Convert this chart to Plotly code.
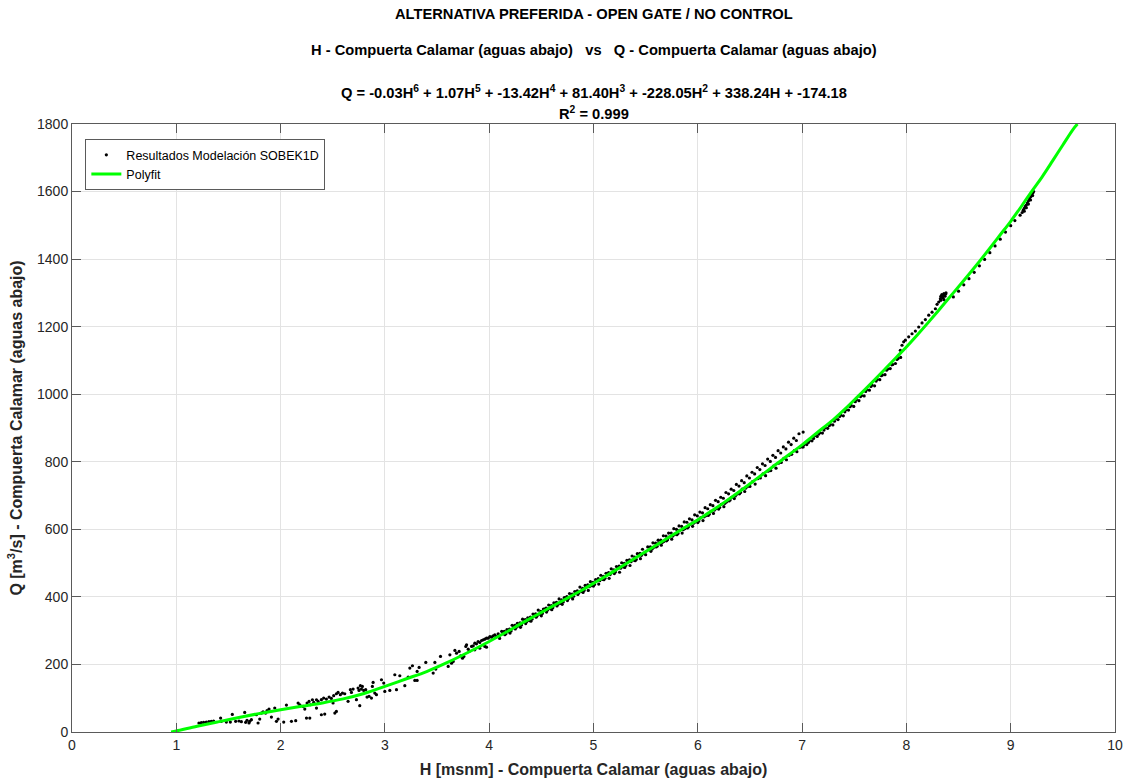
import plotly.graph_objects as go

# ---------------- data ----------------
# Polyfit curve
fit_H = [0.95, 1.0, 1.2, 1.4, 1.6, 1.8, 2.0, 2.2, 2.4, 2.6, 2.8, 3.0, 3.2, 3.4, 3.6, 3.8,
         4.0, 4.1, 4.2, 4.3, 4.4, 4.5, 4.6, 4.7, 4.8, 4.9, 5.0, 5.1, 5.2, 5.3, 5.4, 5.5,
         5.6, 5.7, 5.8, 5.9, 6.0, 6.1, 6.2, 6.3, 6.4, 6.5, 6.6, 6.7, 6.8, 6.9, 7.0, 7.1,
         7.2, 7.3, 7.4, 7.5, 7.6, 7.7, 7.8, 7.9, 8.0, 8.1, 8.2, 8.3, 8.4, 8.5, 8.6, 8.7,
         8.8, 8.9, 9.0, 9.1, 9.2, 9.3, 9.4, 9.5, 9.6, 9.64]
fit_Q = [0, 3, 17, 30, 43, 55, 66, 76, 86, 98, 114, 135, 157, 179, 206, 236,
         268, 285, 302, 320, 337, 354, 371, 388, 405, 422, 440, 458, 477, 496, 515, 534,
         553, 572, 591, 610, 628, 648, 668, 690, 712, 735, 758, 781, 804, 827, 850, 875,
         900, 925, 953, 983, 1013, 1044, 1076, 1108, 1140, 1174, 1209, 1245, 1282, 1318, 1355, 1393,
         1432, 1472, 1512, 1555, 1600, 1643, 1690, 1738, 1785, 1800]

# SOBEK1D results, low range (H 1.2 - 2.6)
sim_H_low = [1.217, 1.24, 1.262, 1.288, 1.313, 1.336, 1.358, 1.425, 1.432, 1.48, 1.518, 1.537,
             1.569, 1.601, 1.624, 1.656, 1.665, 1.678, 1.697, 1.704, 1.72, 1.768, 1.784, 1.80,
             1.816, 1.832, 1.857, 1.87, 1.889, 1.912, 1.944, 1.96, 1.976, 2.03, 2.056, 2.104,
             2.145, 2.168, 2.184, 2.216, 2.232, 2.254, 2.273, 2.286, 2.305, 2.318, 2.344, 2.36,
             2.344, 2.391, 2.423, 2.248, 2.28, 2.52, 2.535]
sim_Q_low = [26.6, 27.5, 28.5, 29.5, 30.5, 31.5, 32.5, 41.3, 31.5, 29.5, 29.5, 52,
             31.5, 32.5, 30.5, 58, 28.5, 34.5, 26.6, 31.5, 36.4, 51, 26.6, 38.4,
             56, 60, 56, 63, 68, 44.3, 71, 31.5, 38.4, 29.5, 79.7, 31.5,
             33.4, 85.6, 80.7, 75.8, 68, 85.6, 90.6, 80.7, 95.5, 87.6, 95.5, 90.6,
             70.9, 51, 53, 41.3, 41.3, 56, 61]

# SOBEK1D results, H 2.4 - 4.1
sim_H_mid = [2.391, 2.413, 2.439, 2.465, 2.487, 2.509, 2.535, 2.551, 2.573, 2.593, 2.615, 2.503,
             2.647, 2.669, 2.679, 2.695, 2.727, 2.743, 2.752, 2.765, 2.775, 2.784, 2.797, 2.816,
             2.829, 2.848, 2.871, 2.887, 2.88, 2.903, 2.919, 2.759, 2.967, 2.989, 2.999, 3.047,
             3.095, 3.111, 3.143, 3.191, 3.223, 3.239, 3.264, 3.287, 3.309, 3.309, 3.328, 3.392,
             3.463, 3.479, 3.488, 3.533, 3.607, 3.623, 3.639, 3.655, 3.671, 3.687, 3.712, 3.725,
             3.744, 3.757, 3.776, 3.783, 3.799, 3.808, 3.831, 3.847, 3.862, 3.878, 3.894, 3.91,
             3.927, 3.943, 3.958, 3.974, 3.99, 4.007, 4.022, 4.038, 4.054, 4.07, 4.086,
             3.862, 3.91, 3.958, 3.974]
sim_Q_mid = [95.6, 100.5, 97.6, 103.5, 99.5, 107.4, 113.3, 117.3, 110.4, 115.3, 113.3, 85.8,
             90.7, 125.2, 117.3, 127.1, 95.6, 130, 123.2, 137, 127.1, 135, 123.2, 125.2,
             103.5, 105.5, 100.5, 146.8, 135, 115.3, 110.4, 77.9, 154.7, 144.9, 120.2, 123.2,
             169.5, 125.2, 166.5, 137, 162.6, 189.2, 196.1, 152.7, 152.7, 179.3, 191.1, 205.9,
             174.4, 205.9, 186.2, 223.6, 194.1, 228.6, 203.9, 208.9, 241.4, 233.5, 238.4, 225.6,
             218.7, 223.6, 253.2, 258.1, 245.3, 238.4, 253.2, 255.2, 263, 261.1, 268, 265,
             270.9, 272.9, 274.9, 277.8, 277.8, 282.8, 280.8, 284.7, 287.7, 282.8, 290.6,
             243.4, 248.3, 253.2, 251.2]

# SOBEK1D results, dense band H 4.1 - 5.5
sim_H_band1 = [4.12, 4.17, 4.22, 4.27, 4.32, 4.37, 4.42, 4.47, 4.52, 4.57, 4.62, 4.67, 4.72, 4.77,
               4.82, 4.87, 4.92, 4.97, 5.02, 5.07, 5.12, 5.17, 5.22, 5.27, 5.32, 5.37, 5.42, 5.47,
               4.10, 4.15, 4.20, 4.25, 4.30, 4.35, 4.40, 4.45, 4.50, 4.55, 4.60, 4.65, 4.70, 4.75,
               4.80, 4.85, 4.90, 4.95, 5.00, 5.05, 5.10, 5.15, 5.20, 5.25, 5.30, 5.35, 5.40, 5.45, 5.50,
               4.135, 4.185, 4.235, 4.285, 4.335, 4.385, 4.435, 4.485, 4.535, 4.585, 4.635, 4.685,
               4.735, 4.785, 4.835, 4.885, 4.935, 4.985, 5.035, 5.085, 5.135, 5.185, 5.235, 5.285,
               5.335, 5.385, 5.435, 5.485,
               4.145, 4.195, 4.245, 4.295, 4.345, 4.395, 4.445, 4.495, 4.545, 4.595, 4.645, 4.695,
               4.745, 4.795, 4.845, 4.895, 4.945, 4.995, 5.045, 5.095, 5.145, 5.195, 5.245, 5.295,
               5.345, 5.395, 5.445,
               4.16, 4.21, 4.26, 4.31, 4.36, 4.41, 4.46, 4.51, 4.56, 4.61, 4.66, 4.71, 4.76, 4.81,
               4.86, 4.91, 4.96, 5.01, 5.06, 5.11, 5.16, 5.21, 5.26, 5.31, 5.36, 5.41, 5.46]
sim_Q_band1 = [298, 303, 316, 322, 334, 338, 349, 361, 364, 376, 382, 394, 398, 410,
               416, 429, 434, 445, 451, 464, 470, 483, 490, 501, 508, 521, 528, 541,
               277, 288, 293, 305, 310, 321, 328, 340, 344, 355, 362, 373, 378, 389,
               394, 407, 413, 419, 432, 438, 451, 455, 469, 473, 487, 493, 507, 513, 525,
               294, 297, 312, 314, 328, 330, 346, 349, 364, 365, 379, 381,
               397, 400, 415, 416, 430, 433, 449, 452, 468, 472, 486, 489,
               504, 509, 525, 529,
               298, 305, 316, 323, 333, 340, 350, 357, 367, 374, 384, 391,
               401, 408, 418, 425, 436, 443, 454, 461, 472, 480, 491, 499,
               510, 518, 529,
               291, 299, 310, 317, 327, 334, 344, 351, 361, 368, 378, 385, 395, 402,
               412, 419, 430, 437, 448, 455, 466, 474, 485, 493, 504, 511, 523]

# SOBEK1D results, H 5.5 - 7.0 (upper and lower rows)
sim_H_band2 = [5.52, 5.57, 5.62, 5.67, 5.72, 5.77, 5.82, 5.87, 5.92, 5.97, 6.02, 6.07, 6.12, 6.17,
               6.22, 6.27, 6.32, 6.37, 6.42, 6.47, 6.52, 6.57, 6.62, 6.67, 6.72, 6.77, 6.82, 6.87,
               6.92, 6.97, 7.01,
               5.545, 5.595, 5.645, 5.695, 5.745, 5.795, 5.845, 5.895, 5.945, 5.995, 6.045, 6.095,
               6.145, 6.195, 6.245, 6.295, 6.345, 6.395, 6.445, 6.495,
               6.545, 6.595, 6.645, 6.695, 6.745, 6.795, 6.845, 6.895, 6.945,
               5.55, 5.60, 5.65, 5.70, 5.75, 5.80, 5.85, 5.90, 5.95, 6.00, 6.05, 6.10, 6.15, 6.20,
               6.25, 6.30, 6.35, 6.40, 6.45, 6.50, 6.55, 6.60, 6.65, 6.70, 6.75, 6.80, 6.85, 6.90,
               6.95, 7.00,
               5.575, 5.625, 5.675, 5.725, 5.775, 5.825, 5.875, 5.925, 5.975, 6.025, 6.075, 6.125,
               6.175, 6.225, 6.275, 6.325, 6.375, 6.425, 6.475, 6.525, 6.575, 6.625, 6.675, 6.725,
               6.775, 6.825, 6.875, 6.925, 6.975,
               5.56, 5.61, 5.66, 5.71, 5.76, 5.81, 5.86, 5.91, 5.96, 6.01, 6.06, 6.11, 6.16, 6.21,
               6.26, 6.31, 6.36, 6.41, 6.46]
sim_Q_band2 = [548, 560, 568, 581, 589, 602, 610, 622, 631, 643, 651, 664, 673, 686,
               695, 709, 719, 733, 744, 758, 769, 783, 794, 808, 819, 833, 844, 858,
               870, 883, 888,
               548, 559, 568, 580, 589, 600, 609, 621, 628, 640, 649, 661,
               670, 682, 692, 705, 715, 728, 738, 752,
               764, 777, 789, 801, 813, 826, 838, 851, 863,
               535, 548, 553, 566, 571, 584, 589, 604, 609, 620, 626, 641, 647, 660,
               667, 684, 691, 705, 712, 727, 734, 752, 759, 774, 781, 798, 806, 822,
               830, 844,
               546, 559, 564, 577, 584, 597, 602, 615, 622, 634, 640, 653,
               661, 674, 681, 695, 704, 719, 726, 741, 750, 764, 772, 787,
               796, 810, 819, 833, 842,
               541, 550, 561, 569, 580, 588, 599, 607, 618, 625, 637, 645, 657, 665,
               677, 687, 699, 709, 722]

# SOBEK1D results, H 7.0 - 7.95 (below the fit)
sim_H_band3 = [7.02, 7.07, 7.12, 7.17, 7.22, 7.27, 7.32, 7.37, 7.42, 7.47, 7.52, 7.57, 7.62, 7.67,
               7.72, 7.77, 7.82, 7.87, 7.92,
               7.045, 7.095, 7.145, 7.195, 7.245, 7.295, 7.345, 7.395, 7.445, 7.495, 7.545, 7.595,
               7.645, 7.695, 7.745, 7.795, 7.845, 7.895, 7.945,
               7.01, 7.06, 7.11, 7.16, 7.21, 7.26, 7.31, 7.36, 7.41, 7.46, 7.51, 7.56, 7.61, 7.66,
               7.71, 7.76, 7.81, 7.86, 7.91]
sim_Q_band3 = [851, 862, 877, 886, 901, 911, 927, 938, 954, 967, 984, 996, 1014, 1027,
               1044, 1057, 1075, 1088, 1106,
               851, 862, 875, 885, 899, 909, 925, 936, 953, 964, 981, 995,
               1012, 1025, 1043, 1058, 1076, 1091, 1109,
               844, 857, 869, 882, 894, 907, 920, 934, 948, 963, 978, 993, 1008, 1023,
               1039, 1055, 1071, 1087, 1103]

# SOBEK1D results, H 7.9 - 9.25 (upper row, cluster and dotted lower row)
sim_H_high = [7.942, 7.958, 7.974, 7.99, 8.022, 8.054, 8.086, 8.118, 8.15, 8.182, 8.214, 8.246,
              8.278, 8.294, 8.31, 8.326, 8.342, 8.357, 8.374,
              8.33, 8.34, 8.35, 8.36, 8.37, 8.38, 8.36, 8.33,
              8.45, 8.50, 8.55, 8.60, 8.65, 8.70, 8.75, 8.80, 8.85, 8.90, 8.95, 9.00, 9.04,
              9.09, 9.11, 9.12, 9.13, 9.14, 9.15, 9.16, 9.17, 9.18, 9.19, 9.20, 9.21, 9.22,
              9.15, 9.17, 9.19, 9.21, 9.13]
sim_Q_high = [1130, 1145, 1155, 1160, 1170, 1179, 1187, 1199, 1211, 1221, 1234, 1243,
              1253, 1266, 1273, 1283, 1288, 1293, 1296,
              1278, 1295, 1285, 1298, 1290, 1300, 1280, 1290,
              1288, 1305, 1324, 1342, 1361, 1380, 1399, 1419, 1439, 1459, 1480, 1499, 1514,
              1530, 1538, 1545, 1550, 1556, 1560, 1566, 1572, 1578, 1584, 1590, 1595, 1600,
              1552, 1563, 1575, 1588, 1542]

x_ticks = [0, 1, 2, 3, 4, 5, 6, 7, 8, 9, 10]
y_ticks = [0, 200, 400, 600, 800, 1000, 1200, 1400, 1600, 1800]

title_1 = "ALTERNATIVA PREFERIDA - OPEN GATE / NO CONTROL"
title_2 = "H - Compuerta Calamar (aguas abajo)   vs   Q - Compuerta Calamar (aguas abajo)"
title_3 = ("Q = -0.03H<sup>6</sup> + 1.07H<sup>5</sup> + -13.42H<sup>4</sup> + 81.40H<sup>3</sup>"
           " + -228.05H<sup>2</sup> + 338.24H + -174.18")
title_4 = "R<sup>2</sup> = 0.999"

# ---------------- figure ----------------
sim_H = sim_H_low + sim_H_mid + sim_H_band1 + sim_H_band2 + sim_H_band3 + sim_H_high
sim_Q = sim_Q_low + sim_Q_mid + sim_Q_band1 + sim_Q_band2 + sim_Q_band3 + sim_Q_high

FONT = "Liberation Sans, Arial, Helvetica, sans-serif"
TXT = "#262626"

fig = go.Figure()
fig.add_trace(go.Scatter(
    x=sim_H, y=sim_Q, mode="markers",
    marker=dict(color="black", size=3.2, line=dict(width=0)),
    name="Resultados Modelación SOBEK1D"))
fig.add_trace(go.Scatter(
    x=fit_H, y=fit_Q, mode="lines", line=dict(color="#00ff00", width=3, shape="spline"),
    name="Polyfit"))

axis_common = dict(
    showgrid=True, gridcolor="#e3e3e3", gridwidth=1,
    showline=True, linecolor="#5a5a5a", linewidth=1, mirror="ticks",
    ticks="inside", ticklen=9, tickcolor="#5a5a5a", tickwidth=1,
    zeroline=False, tickfont=dict(family=FONT, size=14, color=TXT),
    automargin=False,
)
fig.update_xaxes(range=[0, 10], tickvals=x_ticks, **axis_common,
                 title=dict(text="<b>H [msnm] - Compuerta Calamar (aguas abajo)</b>",
                            font=dict(family=FONT, size=16, color=TXT), standoff=14))
fig.update_yaxes(range=[0, 1800], tickvals=y_ticks, **axis_common,
                 title=dict(text="<b>Q [m<sup>3</sup>/s] - Compuerta Calamar (aguas abajo)</b>",
                            font=dict(family=FONT, size=16, color=TXT), standoff=10))

for txt, yy in [(title_1, 1.181), (title_2, 1.1217), (title_3, 1.0526), (title_4, 1.018)]:
    fig.add_annotation(text="<b>" + txt + "</b>", xref="paper", yref="paper", x=0.5, y=yy,
                       xanchor="center", yanchor="middle", showarrow=False,
                       font=dict(family=FONT, size=14.7, color="black"))

fig.update_layout(
    width=1126, height=778,
    margin=dict(l=72, r=11, t=124, b=46, autoexpand=False),
    paper_bgcolor="white", plot_bgcolor="white",
    font=dict(family=FONT, color=TXT),
    showlegend=True,
    legend=dict(x=0.0128, y=0.975, xanchor="left", yanchor="top",
                bgcolor="white", bordercolor="#5a5a5a", borderwidth=1,
                font=dict(family=FONT, size=12.5, color="black"),
                itemwidth=30, tracegroupgap=0),
)

# remove the default page margin so the figure fills the window exactly
fig.write_html("out.html",
               config={"displayModeBar": False},
               post_script="document.body.style.margin='0';document.body.style.overflow='hidden';")
